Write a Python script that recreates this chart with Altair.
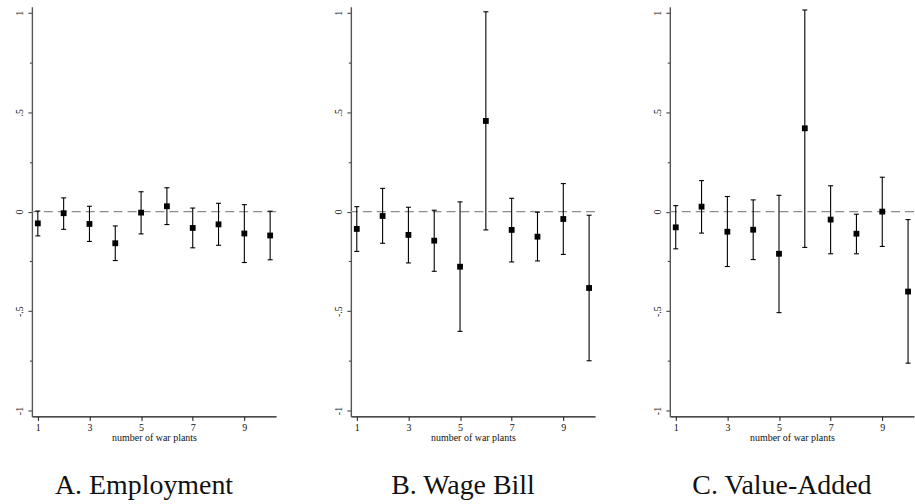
import altair as alt
import pandas as pd

x_vals = [1, 2, 3, 4, 5, 6, 7, 8, 9, 10]

titles = ["A. Employment", "B. Wage Bill", "C. Value-Added"]

emp_est = [-0.059, -0.008, -0.062, -0.159, -0.005, 0.027, -0.082, -0.064, -0.110, -0.120]
emp_hi = [0.003, 0.069, 0.027, -0.072, 0.100, 0.120, 0.018, 0.042, 0.035, 0.002]
emp_lo = [-0.122, -0.089, -0.150, -0.246, -0.112, -0.065, -0.182, -0.169, -0.256, -0.242]

wage_est = [-0.087, -0.022, -0.117, -0.146, -0.277, 0.456, -0.092, -0.126, -0.037, -0.384]
wage_hi = [0.025, 0.117, 0.022, 0.007, 0.049, 1.005, 0.067, -0.003, 0.141, -0.018]
wage_lo = [-0.200, -0.159, -0.258, -0.300, -0.602, -0.092, -0.253, -0.248, -0.215, -0.750]

va_est = [-0.079, 0.025, -0.101, -0.091, -0.212, 0.419, -0.040, -0.111, 0.000, -0.402]
va_hi = [0.030, 0.156, 0.076, 0.059, 0.082, 1.014, 0.130, -0.013, 0.173, -0.040]
va_lo = [-0.187, -0.108, -0.276, -0.241, -0.508, -0.180, -0.212, -0.212, -0.175, -0.762]

x_ticks = [1, 3, 5, 7, 9]
y_ticks = [-1, -0.75, -0.5, -0.25, 0, 0.25, 0.5, 0.75, 1]
x_title = "number of war plants"

FONT = "Liberation Serif"
TITLE_FONT = "Liberation Serif"

y_label_expr = (
    "datum.value == 1 ? '1' : datum.value == 0.5 ? '.5' : datum.value == 0 ? '0' : "
    "datum.value == -0.5 ? '-.5' : datum.value == -1 ? '-1' : ''"
)


def make_panel(title, est, lo, hi):
    df = pd.DataFrame({"x": x_vals, "est": est, "lo": lo, "hi": hi})
    zdf = pd.DataFrame({"z": [0]})
    xs = alt.Scale(domain=[0.77, 10.23], nice=False, zero=False)
    ys = alt.Scale(domain=[-1.03, 1.03], nice=False, zero=False)
    xaxis = alt.Axis(
        values=x_ticks, format="d", title=x_title, grid=False,
        tickSize=4, labelPadding=2, titlePadding=0,
        labelFont=FONT, titleFont=FONT, labelFontSize=10, titleFontSize=10,
        titleFontWeight="normal", domainColor="#111", tickColor="#111",
        domainWidth=1.3, tickWidth=1, labelColor="#111", titleColor="#111",
    )
    yaxis = alt.Axis(
        values=y_ticks, labelExpr=y_label_expr, title=None, grid=False,
        tickSize={"condition": {"test": "abs(datum.value) == 1 || abs(datum.value) == 0.5 || datum.value == 0", "value": 4}, "value": 2.5},
        labelAngle=270, labelAlign="center", labelBaseline="bottom", labelPadding=3,
        labelFont=FONT, labelFontSize=10, labelColor="#111",
        domainColor="#555", tickColor="#333", domainWidth=1.4, tickWidth=1,
        minExtent=27, maxExtent=27,
    )
    zero = alt.Chart(zdf).mark_rule(color="#8c8c8c", strokeDash=[9, 5], strokeWidth=1.4).encode(
        y=alt.Y("z:Q", scale=ys, axis=yaxis)
    )
    base = alt.Chart(df)
    bars = base.mark_rule(color="black", strokeWidth=1.1).encode(
        x=alt.X("x:Q", scale=xs, axis=xaxis),
        y=alt.Y("lo:Q", scale=ys, axis=yaxis),
        y2="hi:Q",
    )
    cap_hi = base.mark_tick(orient="horizontal", size=5, thickness=1.1, color="black", opacity=1).encode(
        x=alt.X("x:Q", scale=xs, axis=xaxis),
        y=alt.Y("hi:Q", scale=ys, axis=yaxis),
    )
    cap_lo = base.mark_tick(orient="horizontal", size=5, thickness=1.1, color="black", opacity=1).encode(
        x=alt.X("x:Q", scale=xs, axis=xaxis),
        y=alt.Y("lo:Q", scale=ys, axis=yaxis),
    )
    pts = base.mark_square(size=34, color="black", opacity=1, filled=True).encode(
        x=alt.X("x:Q", scale=xs, axis=xaxis),
        y=alt.Y("est:Q", scale=ys, axis=yaxis),
    )
    return alt.layer(zero, bars, cap_hi, cap_lo, pts).properties(
        width=245, height=411,
        title=alt.TitleParams(
            text=title, orient="bottom", font=TITLE_FONT, fontSize=28, fontWeight="normal",
            color="#111", offset=30, dx=-10, anchor="middle",
        ),
    )


chart = alt.hconcat(
    make_panel(titles[0], emp_est, emp_lo, emp_hi),
    make_panel(titles[1], wage_est, wage_lo, wage_hi),
    make_panel(titles[2], va_est, va_lo, va_hi),
    spacing=47,
).properties(
    padding={"left": 5, "top": 6, "right": 0, "bottom": 0},
    background="white",
).configure_view(stroke=None).configure_title(font=TITLE_FONT)

chart.save("out.html", embed_options={"renderer": "svg", "actions": False})
